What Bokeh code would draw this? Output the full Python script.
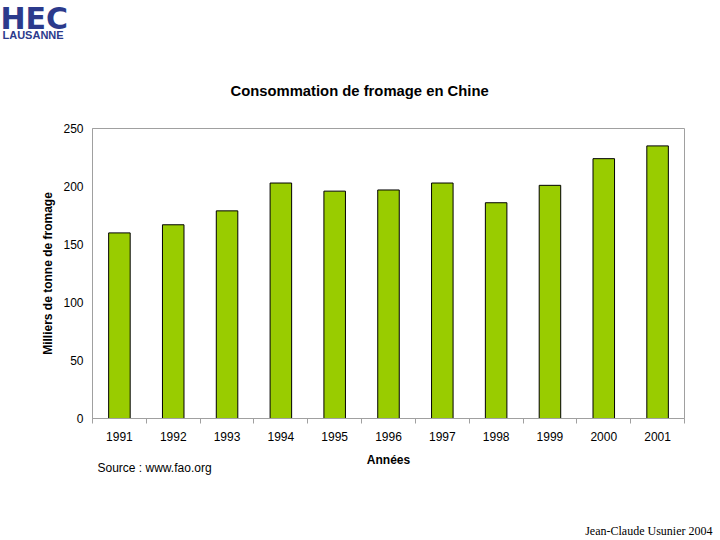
from bokeh.embed import file_html
from bokeh.models import FixedTicker, Range1d, Title
from bokeh.plotting import figure
from bokeh.resources import INLINE

# Consommation de fromage en Chine (milliers de tonnes)
years = [1991, 1992, 1993, 1994, 1995, 1996, 1997, 1998, 1999, 2000, 2001]
cheese = [160, 167, 179, 203, 196, 197, 203, 186, 201, 224, 235]
y_ticks = [0, 50, 100, 150, 200, 250]

FONT = "Liberation Sans"
GREY = "#a0a0a0"
BLUE = "#2b3a8c"

p = figure(width=720, height=540, output_backend="svg", toolbar_location=None, title=None,
           x_range=Range1d(years[0] - 0.5, years[-1] + 0.5), y_range=Range1d(0, 250),
           min_border_left=92, min_border_right=36, min_border_top=128, min_border_bottom=122)
p.outline_line_color = GREY
p.xgrid.visible = False
p.ygrid.visible = False

p.vbar(x=years, top=cheese, width=0.4, fill_color="#99cc00", line_color="black", line_width=1)

# axe x : libellés au centre, petits traits entre les années
p.xaxis.ticker = FixedTicker(ticks=years, minor_ticks=[y - 0.5 for y in years] + [years[-1] + 0.5])
p.xaxis.axis_label = "Années"
p.yaxis.ticker = FixedTicker(ticks=y_ticks)
p.yaxis.axis_label = "Milliers de tonne de fromage"
for ax in (p.xaxis, p.yaxis):
    ax.axis_line_color = GREY
    ax.major_tick_in = 0
    ax.major_tick_out = 0
    ax.minor_tick_in = 0
    ax.major_label_text_font = FONT
    ax.major_label_text_font_size = "12px"
    ax.major_label_text_color = "black"
    ax.axis_label_text_font = FONT
    ax.axis_label_text_font_size = "12px"
    ax.axis_label_text_font_style = "bold"
    ax.axis_label_text_color = "black"
p.xaxis.minor_tick_out = 5
p.xaxis.minor_tick_line_color = GREY
p.yaxis.minor_tick_out = 0
p.xaxis.major_label_standoff = 8
p.xaxis.axis_label_standoff = 9
p.yaxis.major_label_standoff = 9
p.yaxis.axis_label_standoff = 5


def title(text, size, align="left", offset=0, standoff=0, font=FONT, style="normal",
          color="black", valign="bottom"):
    return Title(text=text, align=align, offset=offset, standoff=standoff,
                 vertical_align=valign, text_font=font, text_font_size=size,
                 text_font_style=style, text_color=color)


# au-dessus du cadre : titre, puis logo (empilés vers le haut)
p.add_layout(title("Consommation de fromage en Chine", "14.8px", offset=138, standoff=60,
                   style="bold"), "above")
p.add_layout(title("LAUSANNE", "11px", offset=-90, standoff=19, style="bold", color=BLUE),
             "above")
p.add_layout(title("HEC", "30px", offset=-92, standoff=-36, font="DejaVu Sans",
                   style="bold", color=BLUE), "above")

# sous l'axe x : source, espace, puis auteur
p.add_layout(title("Source : www.fao.org", "12px", offset=5, standoff=-18, valign="top"), "below")
p.add_layout(title(" ", "12px", standoff=38, valign="top"), "below")
p.add_layout(title("Jean-Claude Usunier 2004", "12px", align="right", offset=-28, standoff=0,
                   font="Liberation Serif", valign="top"), "below")

open("out.html", "w").write(file_html(p, INLINE))
